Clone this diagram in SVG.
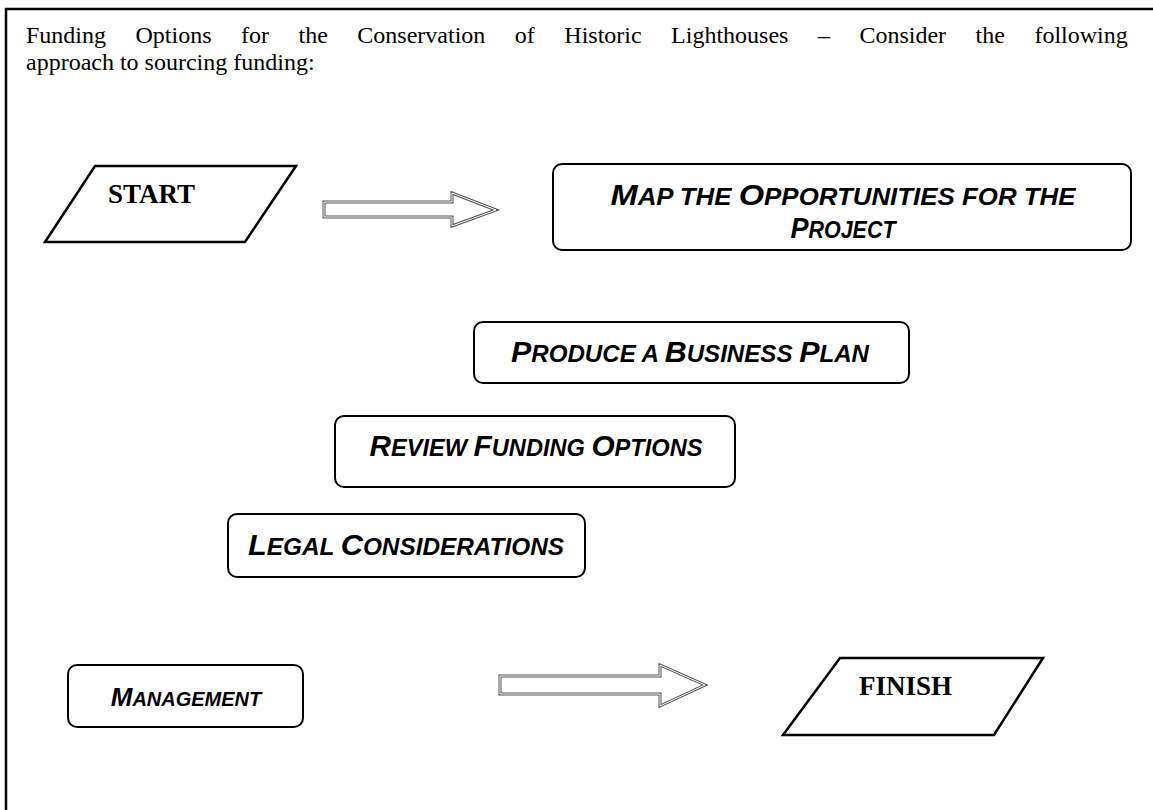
<svg xmlns="http://www.w3.org/2000/svg" width="1153" height="810" viewBox="0 0 1153 810">
  <defs>
    <style>
      .frame { fill: none; stroke: #000; stroke-width: 2.5; }
      .io { fill: #fff; stroke: #000; stroke-width: 2.5; stroke-linejoin: miter; }
      .step { fill: #fff; stroke: #000; stroke-width: 2; }
      .arrow-outer { fill: #fff; stroke: #555; stroke-width: 3; stroke-linejoin: miter; }
      .arrow-inner { fill: none; stroke: #fff; stroke-width: 1; stroke-linejoin: miter; }
      .title { font-family: "Liberation Serif", "Times New Roman", serif; font-size: 24px; fill: #000; }
      .io-label { font-family: "Liberation Serif", "Times New Roman", serif; font-size: 27px; font-weight: bold; fill: #000; }
      .step-label { font-family: "Liberation Sans", Arial, sans-serif; font-weight: bold; font-style: italic; font-size: 23px; fill: #000; text-anchor: middle; }
      .cap { font-size: 29px; }
      .step-label.small { font-size: 20px; }
      .step-label.small .cap { font-size: 26px; }
    </style>
    <path id="arrow-shape-a" d="M324,202 H452 V193 L496,210 L452,226 V217 H324 Z"/>
    <path id="arrow-shape-b" d="M500,676 H660 V665 L705,685 L660,706 V694 H500 Z"/>
  </defs>

  <!-- page frame -->
  <rect class="frame" x="6" y="9" width="1170" height="830"/>

  <!-- heading paragraph -->
  <text class="title" x="26" y="43" word-spacing="23.5">Funding Options for the Conservation of Historic Lighthouses – Consider the following</text>
  <text class="title" x="26" y="70">approach to sourcing funding:</text>

  <!-- connectors -->
  <g id="connectors">
    <use href="#arrow-shape-a" class="arrow-outer"/>
    <use href="#arrow-shape-a" class="arrow-inner"/>
    <use href="#arrow-shape-b" class="arrow-outer"/>
    <use href="#arrow-shape-b" class="arrow-inner"/>
  </g>

  <g id="start">
    <polygon class="io" points="95,166 296,166 245,242 45,242"/>
    <text class="io-label" x="108" y="203">START</text>
  </g>

  <g id="map-opportunities">
    <rect class="step" x="553" y="164" width="578" height="86" rx="9"/>
    <text class="step-label" x="843" y="205" textLength="465" lengthAdjust="spacingAndGlyphs"><tspan class="cap">M</tspan>AP THE <tspan class="cap">O</tspan>PPORTUNITIES FOR THE</text>
    <text class="step-label" x="843" y="238" textLength="105" lengthAdjust="spacingAndGlyphs"><tspan class="cap">P</tspan>ROJECT</text>
  </g>

  <g id="business-plan">
    <rect class="step" x="474" y="322" width="435" height="61" rx="9"/>
    <text class="step-label" x="690" y="362" textLength="358" lengthAdjust="spacingAndGlyphs"><tspan class="cap">P</tspan>RODUCE A <tspan class="cap">B</tspan>USINESS <tspan class="cap">P</tspan>LAN</text>
  </g>

  <g id="funding-options">
    <rect class="step" x="335" y="416" width="400" height="71" rx="9"/>
    <text class="step-label" x="536" y="456" textLength="333" lengthAdjust="spacingAndGlyphs"><tspan class="cap">R</tspan>EVIEW <tspan class="cap">F</tspan>UNDING <tspan class="cap">O</tspan>PTIONS</text>
  </g>

  <g id="legal">
    <rect class="step" x="228" y="514" width="357" height="63" rx="9"/>
    <text class="step-label" x="406" y="555" textLength="316" lengthAdjust="spacingAndGlyphs"><tspan class="cap">L</tspan>EGAL <tspan class="cap">C</tspan>ONSIDERATIONS</text>
  </g>

  <g id="management">
    <rect class="step" x="68" y="665" width="235" height="62" rx="9"/>
    <text class="step-label small" x="186" y="706"><tspan class="cap">M</tspan>ANAGEMENT</text>
  </g>

  <g id="finish">
    <polygon class="io" points="840,658 1043,658 994,735 783,735"/>
    <text class="io-label" x="859" y="695">FINISH</text>
  </g>
</svg>
